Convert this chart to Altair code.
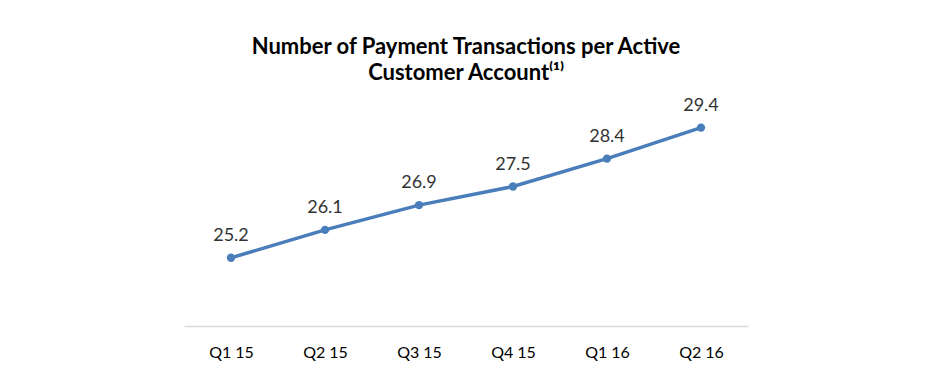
import altair as alt
import pandas as pd

quarters = ["Q1 15", "Q2 15", "Q3 15", "Q4 15", "Q1 16", "Q2 16"]
values = [25.2, 26.1, 26.9, 27.5, 28.4, 29.4]

df = pd.DataFrame({"quarter": quarters, "value": values})
df["label"] = [f"{v:.1f}" for v in values]

FONT = "Lato"
BLUE = "#4A7EBB"

x = alt.X("quarter:N", sort=quarters, title=None,
          scale=alt.Scale(paddingInner=0, paddingOuter=0.5),
          axis=alt.Axis(labelAngle=0, ticks=False, domainColor="#D9D9D9", domainWidth=1.5,
                        labelFontSize=16, labelColor="#000000", labelFont=FONT,
                        labelPadding=18, grid=False))
y = alt.Y("value:Q", title=None, scale=alt.Scale(domain=[23, 30], zero=False, nice=False),
          axis=None)

base = alt.Chart(df).encode(x=x, y=y)
line = base.mark_line(color=BLUE, strokeWidth=3.5)
pts = base.mark_circle(color=BLUE, size=70, opacity=1)
txt = base.mark_text(dy=-17, baseline="alphabetic", fontSize=18, font=FONT, color="#333333").encode(text="label:N")

chart = (line + pts + txt).properties(
    width=564, height=217,
    autosize=alt.AutoSizeParams(type="none"),
    padding={"left": 176, "top": 101, "right": 181, "bottom": 55},
    title=alt.Title(["Number of Payment Transactions per Active", "Customer Account⁽¹⁾"],
                    anchor="middle", fontSize=22, font=FONT, fontWeight="bold",
                    color="#000000", offset=12, lineHeight=26),
).configure_view(stroke=None)

chart.save("out.html", embed_options={"renderer": "svg", "actions": False})
